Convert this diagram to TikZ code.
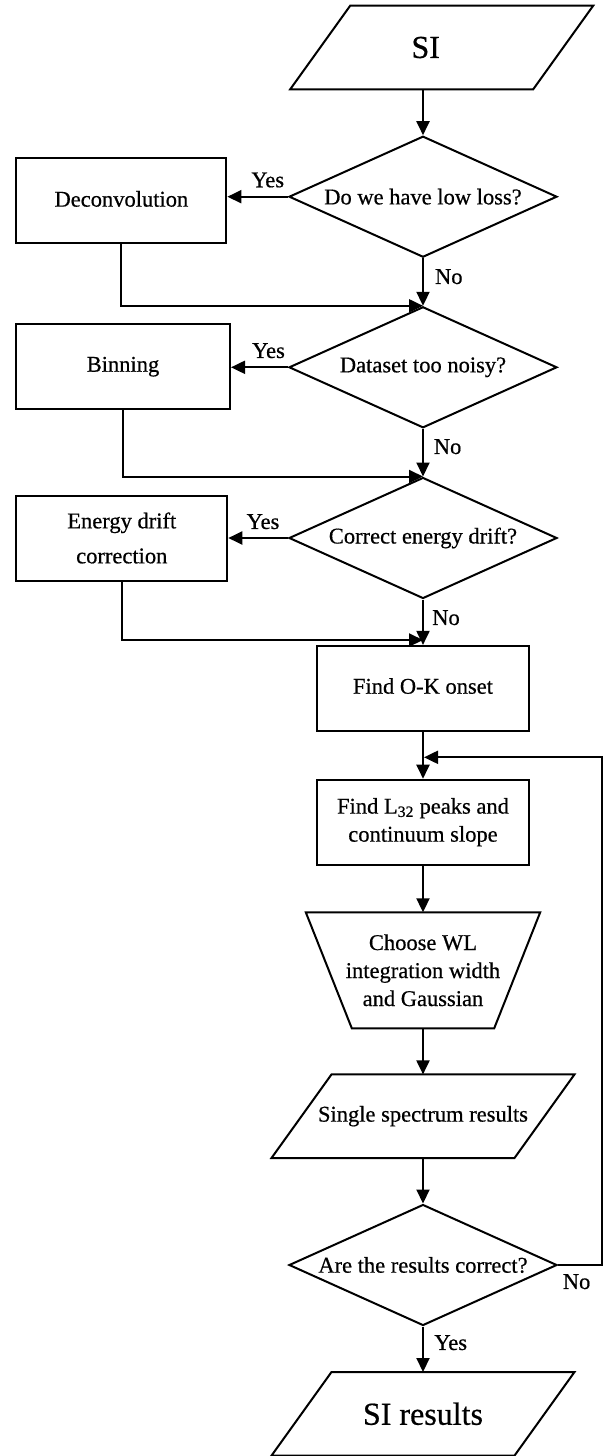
\documentclass[tikz,border=0pt]{standalone}
\usepackage{fontspec}
\setmainfont{Liberation Serif}[FakeBold=0.6]
\usetikzlibrary{shapes.geometric,arrows.meta,calc}
\newcommand\myfs{\fontsize{22.5}{28}\selectfont}
\newcommand\mybig{\fontsize{32}{38}\selectfont}
% outline of a slanted input/output box around an (undrawn) node
\newcommand\drawpar[2]{\draw ($(#1.north west)+(#2,0)$) -- (#1.north east) -- ($(#1.south east)-(#2,0)$) -- (#1.south west) -- cycle;}
% outline of an inverted trapezium (manual operation) around an (undrawn) node
\newcommand\drawtrap[2]{\draw (#1.north west) -- (#1.north east) -- ($(#1.south east)-(#2,0)$) -- ($(#1.south west)+(#2,0)$) -- cycle;}
\begin{document}
\begin{tikzpicture}[x=1pt,y=-1pt,line width=2pt,
 every node/.style={font=\myfs},
 box/.style={draw,rectangle,minimum width=212pt,minimum height=85pt,inner sep=0pt,align=center},
 dec/.style={draw,diamond,aspect=2.2,minimum width=268pt,minimum height=121pt,inner sep=0pt,align=center},
 io/.style={rectangle,minimum width=301pt,minimum height=81.6pt,inner sep=0pt,align=center},
 manualop/.style={rectangle,minimum width=232.4pt,minimum height=114pt,inner sep=0pt,align=center},
 arr/.style={-{Triangle[length=14pt,width=13pt]}},
 lbl/.style={inner sep=0pt}]
\useasboundingbox (0,0) rectangle (604,1456);

% nodes
\node[io,font=\mybig] (si) at (441.7,47.5) {\raisebox{-3pt}{SI}\hspace*{32pt}};
\node[dec] (d1) at (423,196.7) {Do we have low loss?};
\node[box,minimum width=210pt] (b1) at (121.4,200.8) {\raisebox{4pt}{Deconvolution}};
\node[dec] (d2) at (423,367.3) {Dataset too noisy?};
\node[box,minimum width=214pt] (b2) at (123,366.7) {Binning};
\node[dec] (d3) at (423,538) {Correct energy drift?};
\node[box,minimum width=211pt,font=\fontsize{22.5}{35}\selectfont] (b3) at (121.8,538) {Energy drift\\correction};
\node[box] (ok) at (423,688.4) {\raisebox{5pt}{Find O-K onset}};
\node[box] (l32) at (423,822.2) {Find L\textsubscript{32} peaks and\\continuum slope};
\node[manualop] (wl) at (423,970.3) {Choose WL\\integration width\\and Gaussian};
\node[io] (ss) at (423,1116.2) {Single spectrum results};
\node[dec] (d4) at (423,1265) {Are the results correct?};
\node[io,font=\mybig] (out) at (423,1413.8) {\raisebox{-6pt}{SI results}};

% shape outlines
\drawpar{si}{60}
\drawtrap{wl}{46}
\drawpar{ss}{60}
\drawpar{out}{60}

% labels
\node[lbl] (y1) at (267.7,180) {Yes};
\node[lbl] (y2) at (268.5,350.7) {Yes};
\node[lbl] (y3) at (263,521.7) {Yes};
\node[lbl] (n1) at (448.8,276.7) {No};
\node[lbl] (n2) at (447.6,446.7) {No};
\node[lbl] (n3) at (446,617.7) {No};
\node[lbl] (n4) at (576.6,1281.7) {No};
\node[lbl] (y4) at (450.7,1342.7) {Yes};

% helper coordinates
\coordinate (m3) at (423,640);
\coordinate (lp) at (424,757.3);
\coordinate (rc) at (601.7,757.3);

% connectors
\draw[arr] (si.south -| d1.north) -- (d1.north);
\draw[arr] (d1.west) -- (d1.west -| b1.east);
\draw[arr] (d1.south) -- (d2.north);
\draw[arr] (b1.south) |- (d2.north);
\draw[arr] (d2.west) -- (d2.west -| b2.east);
\draw[arr] (d2.south) -- (d3.north);
\draw[arr] (b2.south) |- (d3.north);
\draw[arr] (d3.west) -- (d3.west -| b3.east);
\draw[arr] (d3.south) -- (ok.north);
\draw[arr] (b3.south) |- (m3);
\draw[arr] (ok.south) -- (l32.north);
\draw[arr] (l32.south) -- (wl.north);
\draw[arr] (wl.south) -- (ss.north);
\draw[arr] (ss.south) -- (d4.north);
\draw[arr] (d4.south) -- (out.north);
\draw[arr] (d4.east) -| (rc) -- (lp);
\end{tikzpicture}
\end{document}
